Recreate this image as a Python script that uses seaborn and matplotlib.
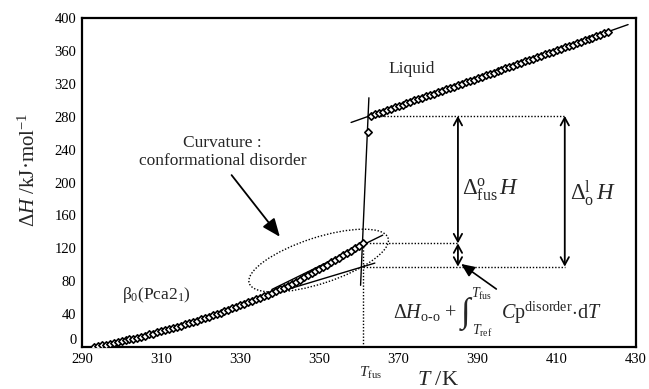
import matplotlib
matplotlib.use("Agg")
import matplotlib.pyplot as plt
import matplotlib.transforms as mtransforms
from matplotlib.patches import Ellipse
import seaborn as sns

# --- enthalpy increments (kJ/mol) -------------------------------------------
# solid beta0 (Pca2_1) phase, 1 K steps
T_solid = list(range(293, 362))
H_solid = [0.0, 0.9, 1.9, 2.8, 3.8, 4.9, 5.9, 7.0, 8.1, 9.2,
           10.3, 11.5, 12.7, 13.9, 15.2, 16.4, 17.7, 19.0, 20.4, 21.7,
           23.1, 24.6, 26.0, 27.5, 28.9, 30.5, 32.0, 33.6, 35.2, 36.8,
           38.4, 40.1, 41.8, 43.5, 45.2, 47.0, 48.7, 50.6, 52.4, 54.2,
           56.1, 58.0, 60.0, 61.8, 63.7, 65.7, 67.9, 70.1, 72.3, 74.7,
           77.0, 79.5, 81.9, 84.5, 87.0, 89.6, 92.2, 94.9, 97.6, 100.3,
           103.0, 105.8, 108.6, 111.5, 114.3, 117.2, 120.1, 123.1, 126.0]
# liquid phase
T_liquid = list(range(363, 424))
H_liquid = [281.0, 282.7, 284.4, 286.1, 287.8, 289.5, 291.2, 292.9, 294.6, 296.3,
            298.0, 299.7, 301.4, 303.1, 304.8, 306.5, 308.2, 309.9, 311.6, 313.3,
            315.0, 316.7, 318.4, 320.1, 321.8, 323.5, 325.2, 326.9, 328.6, 330.3,
            332.0, 333.7, 335.4, 337.1, 338.8, 340.5, 342.2, 343.9, 345.6, 347.3,
            349.0, 350.7, 352.4, 354.1, 355.8, 357.5, 359.2, 360.9, 362.6, 364.3,
            366.0, 367.7, 369.4, 371.1, 372.8, 374.5, 376.2, 377.9, 379.6, 381.3,
            383.0]
# point recorded during melting
T_melt = [362.2]
H_melt = [262.0]

T_fus = 361.0
H_ordered_fus = 97.7          # ordered-phase extrapolation at T_fus

# straight fits (end points)
liquid_fit_T, liquid_fit_H = [358.0, 428.0], [273.0, 392.0]
melt_fit_T, melt_fit_H = [360.4, 362.5], [75.0, 303.0]
disorder_fit_T, disorder_fit_H = [338.0, 366.0], [70.0, 136.0]
ordered_fit_T, ordered_fit_H = [337.0, 364.0], [62.9, 102.0]

# temperatures where the enthalpy differences are marked
T_arrow_fus = 385.0
T_arrow_ol = 412.0

x_ticks = [290, 310, 330, 350, 370, 390, 410, 430]
y_ticks = [0, 40, 80, 120, 160, 200, 240, 280, 320, 360, 400]

# --- style -------------------------------------------------------------------
sns.set_style("white")
plt.rcParams["font.family"] = ["Liberation Serif", "DejaVu Serif"]
plt.rcParams["mathtext.fontset"] = "custom"
plt.rcParams["mathtext.rm"] = "Liberation Serif"
plt.rcParams["mathtext.it"] = "Liberation Serif:italic"
plt.rcParams["mathtext.bf"] = "Liberation Serif:bold"

fig = plt.figure(figsize=(6.49, 3.89), dpi=100)
ax = fig.add_axes([82 / 649, 1 - 347 / 389, 554 / 649, 329 / 389])

dotted = dict(color="black", lw=1.0, linestyle=(0, (1, 1.3)))

# fitted lines
for xs, ys in [(liquid_fit_T, liquid_fit_H), (melt_fit_T, melt_fit_H),
               (disorder_fit_T, disorder_fit_H), (ordered_fit_T, ordered_fit_H)]:
    sns.lineplot(x=xs, y=ys, color="black", lw=1.0, sort=False,
                 estimator=None, ax=ax, zorder=2)

# dotted construction lines
H_solid_end = H_solid[-1]
H_liquid_start = H_liquid[0]
ax.plot([T_fus, T_fus], [0, H_solid_end], **dotted, zorder=1)
ax.plot([T_solid[-1], T_arrow_fus], [H_solid_end, H_solid_end], **dotted, zorder=1)
ax.plot([T_fus, T_arrow_ol], [H_ordered_fus, H_ordered_fus], **dotted, zorder=1)
ax.plot([T_liquid[0], T_arrow_ol], [H_liquid_start, H_liquid_start], **dotted, zorder=1)

# measured points
mk = dict(marker="D", s=14, color="white", edgecolor="black", linewidth=1.2,
          ax=ax, zorder=3, legend=False)
sns.scatterplot(x=T_solid, y=H_solid, **mk)
sns.scatterplot(x=T_liquid, y=H_liquid, **mk)
sns.scatterplot(x=T_melt, y=H_melt, **mk)

# dotted ellipse around the curved part
ell_trans = fig.dpi_scale_trans + mtransforms.ScaledTranslation(349.8, 105.0, ax.transData)
ax.add_patch(Ellipse((0, 0), width=1.46, height=0.46, angle=18,
                     transform=ell_trans, fill=False, **dotted))

# double-headed dimension arrows
dim = dict(arrowstyle="<->,head_length=0.55,head_width=0.3", lw=1.3,
           color="black", shrinkA=0, shrinkB=0)
ax.annotate("", xy=(T_arrow_fus, H_liquid_start), xytext=(T_arrow_fus, H_solid_end),
            arrowprops=dim)
ax.annotate("", xy=(T_arrow_fus, H_solid_end), xytext=(T_arrow_fus, H_ordered_fus),
            arrowprops=dim)
ax.annotate("", xy=(T_arrow_ol, H_liquid_start), xytext=(T_arrow_ol, H_ordered_fus),
            arrowprops=dim)

# pointer arrows
ax.annotate("", xy=(385.8, 101), xytext=(394.7, 70.5),
            arrowprops=dict(arrowstyle="-|>,head_length=0.8,head_width=0.35",
                            lw=1.2, color="black", shrinkA=0, shrinkB=0))
ax.annotate("", xy=(340.0, 134), xytext=(327.8, 209),
            arrowprops=dict(arrowstyle="-|>,head_length=1.1,head_width=0.45",
                            lw=1.3, color="black", shrinkA=0, shrinkB=0))

# labels
ax.text(373.4, 338, "Liquid", fontsize=12.5, ha="center", va="center")
ax.text(325.5, 237, "Curvature :\nconformational disorder", fontsize=12.5,
        ha="center", va="center", linespacing=1.2)
ax.text(308.7, 63, r"$\mathrm{\beta}_0$(Pca2$_1$)", fontsize=12.5,
        ha="center", va="center")
ax.text(393.3, 191, r"$\Delta^{\mathrm{o}}_{\mathrm{fus}}\,H$", fontsize=16.5,
        ha="center", va="center")
ax.text(419.0, 187, r"$\Delta^{\mathrm{l}}_{\mathrm{o}}\,H$", fontsize=16.5,
        ha="center", va="center")

# disorder contribution: dH(o-o) + integral of Cp(disorder) from T_ref to T_fus
ax.text(368.6, 41.5, r"$\Delta H_{\mathrm{o‐o}}$ +", fontsize=14.5,
        ha="left", va="center")
ax.text(387.0, 40.5, "∫", fontsize=25, ha="center", va="center")
ax.text(388.4, 64.5, r"$T_{\mathrm{fus}}$", fontsize=10, ha="left", va="center")
ax.text(388.6, 19.5, r"$T_{\mathrm{ref}}$", fontsize=10, ha="left", va="center")
ax.text(395.8, 41.5, r"$C\mathrm{p}^{\mathrm{disorder}}\!\cdot\!\mathrm{d}T$",
        fontsize=14.5, ha="left", va="center")

# axes
ax.set_xlim(290, 430)
ax.set_ylim(0, 400)
ax.set_xticks(x_ticks)
ax.set_yticks(y_ticks)
ax.tick_params(direction="in", length=3, width=1, labelsize=10.5, pad=4,
               colors="black")
for sp in ax.spines.values():
    sp.set_linewidth(1.6)
    sp.set_color("black")
    sp.set_visible(True)

fig.canvas.draw()
ax.get_yticklabels()[0].set_va("bottom")

ax.set_xlabel("")
ax.set_ylabel(r"$\Delta H$ /kJ·mol$^{\mathrm{-1}}$", fontsize=15)
ax.yaxis.set_label_coords(-0.076, 0.54)
ax.text(0.643, -0.103, r"$T$ /K", transform=ax.transAxes, fontsize=16,
        ha="center", va="center")
ax.text(T_fus + 1.8, -0.078, r"$T_{\mathrm{fus}}$",
        transform=ax.get_xaxis_transform(), fontsize=11, ha="center", va="center")

fig.savefig("out.png", dpi=100)
